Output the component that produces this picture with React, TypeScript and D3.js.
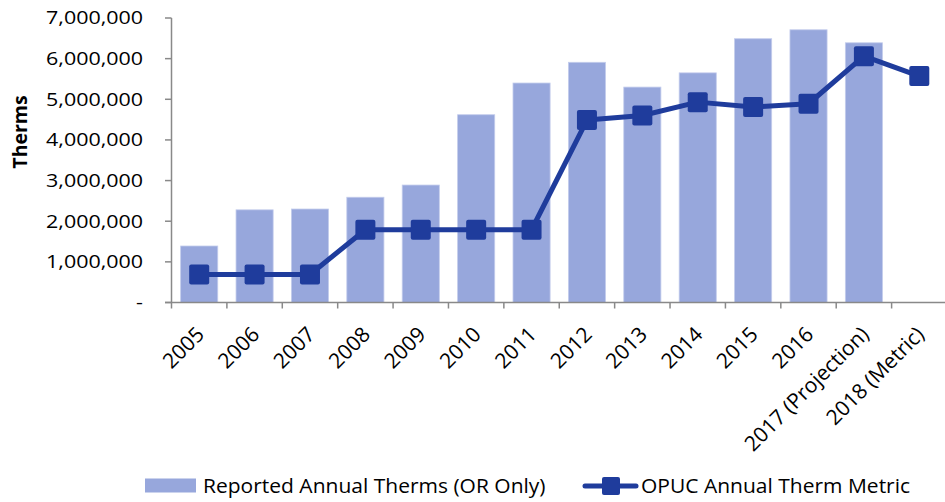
import React from 'react';
import * as d3 from 'd3';

const categories = [
  '2005', '2006', '2007', '2008', '2009', '2010', '2011',
  '2012', '2013', '2014', '2015', '2016', '2017 (Projection)', '2018 (Metric)',
];
// reported annual therms (OR only); no bar for 2018
const reported: (number | null)[] = [
  1390000, 2280000, 2300000, 2590000, 2890000, 4620000, 5400000,
  5910000, 5300000, 5650000, 6490000, 6710000, 6390000, null,
];
// OPUC annual therm metric
const metric = [
  690000, 690000, 690000, 1790000, 1790000, 1790000, 1790000,
  4490000, 4600000, 4930000, 4810000, 4890000, 6060000, 5570000,
];
const yTicks = [0, 1000000, 2000000, 3000000, 4000000, 5000000, 6000000, 7000000];

const W = 945;
const H = 502;
const BAR = '#97A7DC';
const LINE = '#1F3C9C';
const AXIS = '#898989';
const FONT = '"Open Sans", Lato, sans-serif';
// the reference looks a bit stretched sideways, so horizontal text gets widened
const SX = 1.16;

const App: React.FC = () => {
  const x = d3.scaleBand<string>()
    .domain(categories)
    .range([171.5, 947])
    .paddingInner(0.33)
    .paddingOuter(0.165);
  const y = d3.scaleLinear().domain([0, 7000000]).range([302.5, 18]);
  const step = x.step();
  const cx = (c: string) => (x(c) ?? 0) + x.bandwidth() / 2;
  const fmt = d3.format(',');

  const linePath = d3.line<number>()
    .x((_, i) => cx(categories[i]))
    .y(d => y(d))(metric) ?? '';

  return (
    <svg width={W} height={H} style={{ position: 'fixed', left: 0, top: 0, background: '#fff' }}
      fontFamily={FONT}>
      {/* bars */}
      {categories.map((c, i) => reported[i] == null ? null : (
        <rect key={c} x={x(c)} y={y(reported[i] as number)} width={x.bandwidth()}
          height={y(0) - y(reported[i] as number)} fill={BAR} stroke="#c3ccec" strokeWidth={0.8} />
      ))}

      {/* y axis */}
      <line x1={171.5} x2={171.5} y1={y(7000000)} y2={y(0)} stroke={AXIS} strokeWidth={1.5} />
      {yTicks.map(t => (
        <g key={t}>
          <line x1={165} x2={171.5} y1={y(t)} y2={y(t)} stroke={AXIS} strokeWidth={1.5} />
          <text transform={`translate(143,${y(t)}) scale(${SX},1)`} dy="0.35em" textAnchor="end"
            fontSize={18.5} fill="#000">
            {t === 0 ? '-' : fmt(t)}
          </text>
        </g>
      ))}
      <text transform={`translate(27,132) rotate(-90)`} textAnchor="middle"
        fontSize={19.5} fontWeight="bold" fill="#000">Therms</text>

      {/* x axis */}
      <line x1={165} x2={W} y1={y(0)} y2={y(0)} stroke={AXIS} strokeWidth={1.5} />
      {d3.range(categories.length + 1).map(i => (
        <line key={i} x1={171.5 + i * step} x2={171.5 + i * step} y1={y(0)} y2={y(0) + 6}
          stroke={AXIS} strokeWidth={1.5} />
      ))}
      {categories.map(c => (
        <text key={c} transform={`translate(${cx(c) + 1},${y(0) + 28}) rotate(-45)`}
          textAnchor="end" dy="0.35em" fontSize={21} fill="#000">{c}</text>
      ))}

      {/* metric line */}
      <path d={linePath} fill="none" stroke={LINE} strokeWidth={5} strokeLinejoin="round" />
      {metric.map((v, i) => (
        <rect key={i} x={cx(categories[i]) - 10} y={y(v) - 10} width={20} height={20} rx={2}
          fill={LINE} />
      ))}

      {/* legend */}
      <rect x={145} y={478.5} width={51} height={14} fill={BAR} />
      <text transform={`translate(203,486) scale(1.05,1)`} dy="0.35em" fontSize={20} fill="#000">
        Reported Annual Therms (OR Only)
      </text>
      <line x1={585} x2={636} y1={486} y2={486} stroke={LINE} strokeWidth={5} strokeLinecap="round" />
      <rect x={602} y={477} width={18} height={18} rx={2} fill={LINE} />
      <text transform={`translate(641,486) scale(1.05,1)`} dy="0.35em" fontSize={20} fill="#000">
        OPUC Annual Therm Metric
      </text>
    </svg>
  );
};

export default App;
